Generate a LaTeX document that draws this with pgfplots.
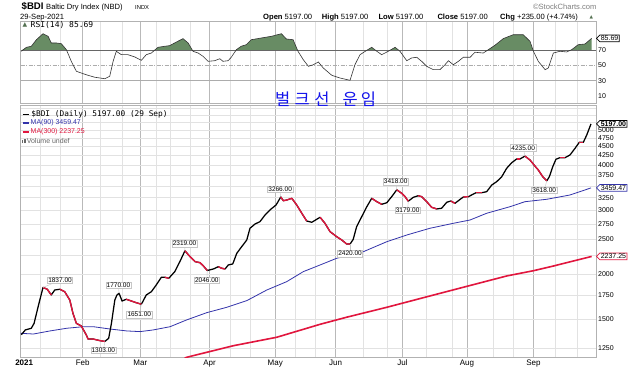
\documentclass[border=0pt]{standalone}
\usepackage{pgfplots}
\pgfplotsset{compat=1.18}
\usepackage{fontspec}
\setmainfont{Liberation Sans}
\newfontfamily\monofont{DejaVu Sans Mono}
\newfontfamily\krfont{Noto Sans CJK KR}
\newfontfamily\symfont{DejaVu Sans}
\usetikzlibrary{shapes.symbols}
\definecolor{bdired}{RGB}{225,22,62}
\definecolor{mablue}{RGB}{51,51,170}
\definecolor{rsigreen}{RGB}{104,140,100}
\definecolor{gridc}{RGB}{226,226,226}
\definecolor{gridm}{RGB}{185,185,185}
\definecolor{krblue}{RGB}{20,20,235}

\pgfplotsset{base/.style={
  scale only axis, width=575.3pt, xmin=0.3, xmax=271.06,
  clip mode=individual,
  xtick={0.3,29.5,56.6,89.2,120.1,148.5,180.0,210.3,241.6},
  minor xtick={9.4,18.8,37.6,47.9,64.3,70.6,80.0,98.8,108.2,129.4,138.8,161.6,172.6,191.4,203.2,222.7,232.1,251.8,262},
  xmajorgrids, xminorgrids,
  major x grid style={draw=gridm, line width=0.5pt},
  minor x grid style={draw=gridc, line width=0.5pt},
  tick style={draw=none},
  axis line style={draw=gray!60, line width=0.5pt},
  yticklabel pos=right,
  yticklabel style={font=\fontsize{7}{8}\selectfont, anchor=west, inner sep=0pt, xshift=2pt},
  xticklabel style={font=\fontsize{8}{9}\selectfont, yshift=1.5pt},
},
redseg/.style={draw=bdired, line width=1.35pt, line join=round},
}
\tikzset{
lab/.style={draw=gray!45, fill=white, font=\fontsize{6.5}{7}\selectfont, inner sep=0.9pt},
conn/.style={draw=gray!45, line width=0.4pt},
vbox/.style={signal, signal to=west, fill=white, line width=0.7pt, inner sep=0.9pt, anchor=west, font=\fontsize{7}{8}\selectfont},
}

\begin{document}
\begin{tikzpicture}[x=1pt,y=1pt]
\useasboundingbox (0,0) rectangle (642,370);
\fill[white] (0,0) rectangle (642,370);

% ---------------- RSI panel ----------------
\begin{axis}[base, at={(20.7pt,266.5pt)}, anchor=south west, height=82.1pt,
  ymin=0, ymax=108, ytick={10,30,50,70}, yticklabels={10,30,50,70},
  xticklabels={}]
\addplot[fill=rsigreen, draw=none] coordinates {(0.75,70)(3.0,73.9)(5.3,75.3)(7.7,83.9)(10.8,91.8)(13.2,88.4)(14.7,79.6)(17.1,79.6)(19.4,78.7)(21.8,70.8)(21.9,70)};
\addplot[fill=rsigreen, draw=none] coordinates {(63.3,70)(64.9,73.9)(68.1,75.3)(70.4,76.1)(73.6,80.9)(76.7,85.3)(79.1,79.6)(81.1,70)};
\addplot[fill=rsigreen, draw=none] coordinates {(101.6,70)(101.8,70.8)(104.1,75.3)(106.5,77.4)(108.8,83.9)(113.6,86.2)(118.3,88.4)(123.0,91.8)(125.3,84.9)(128.5,83.9)(130.6,70)};
\addplot[fill=rsigreen, draw=none] coordinates {(163.2,70)(165.5,73.9)(167.3,70)};
\addplot[fill=rsigreen, draw=none] coordinates {(174.1,70)(176.5,73.9)(178.2,70)};
\addplot[fill=rsigreen, draw=none] coordinates {(220.0,70)(220.4,70.8)(223.5,76.6)(227.4,85.3)(232.1,90.5)(236.8,90.5)(240.0,81.8)(241.4,70)};
\addplot[fill=rsigreen, draw=none] coordinates {(259.0,70)(259.6,70.8)(262.7,77.4)(265.9,78.3)(269.0,85.69)(269.0,70)};
\addplot[draw=gray!80!black, line width=0.6pt] coordinates {(0.3,70)(271.06,70)};
\addplot[draw=gray!65, line width=0.6pt] coordinates {(0.3,30)(271.06,30)};
\addplot[draw=gray!65, line width=0.5pt, dash pattern=on 4pt off 1.5pt on 1pt off 1.5pt] coordinates {(0.3,50)(271.06,50)};
\addplot[draw=black!80, line width=0.6pt] coordinates {
(0.6,68.7)(3.0,73.9)(5.3,75.3)(7.7,83.9)(10.8,91.8)(13.2,88.4)(14.7,79.6)(17.1,79.6)(19.4,78.7)(21.8,70.8)
(24.1,55.5)(26.5,42.4)(28.8,40.1)(32.0,37.1)(35.2,34.5)(39.9,32.6)(42.2,35.8)(43.8,55.5)(45.3,68.7)(47.7,64.2)
(50.8,64.2)(54.0,61.2)(57.1,56.8)(59.4,64.2)(61.8,66.4)(64.9,73.9)(68.1,75.3)(70.4,76.1)(73.6,80.9)(76.7,85.3)
(79.1,79.6)(81.4,68.7)(83.8,66.4)(86.1,62.1)(88.5,55.5)(91.6,56.3)(94.0,58.9)(95.5,55.5)(97.9,56.3)(99.4,60.8)
(101.8,70.8)(104.1,75.3)(106.5,77.4)(108.8,83.9)(113.6,86.2)(118.3,88.4)(123.0,91.8)(125.3,84.9)(128.5,83.9)(130.8,68.7)
(133.3,57.6)(135.7,48.9)(138.0,51.0)(140.4,54.6)(142.7,46.7)(146.7,37.1)(150.6,33.5)(155.3,30.5)(157.6,51.0)(160.0,64.2)
(163.2,70.0)(165.5,73.9)(167.9,68.7)(170.2,64.2)(173.3,68.7)(176.5,73.9)(178.8,68.7)(182.0,56.3)(184.3,59.9)(186.7,60.8)
(189.0,55.5)(191.4,48.9)(194.5,44.5)(197.6,44.5)(200.0,51.0)(201.6,56.3)(203.9,51.0)(206.3,55.5)(208.6,60.8)(211.8,60.8)
(214.1,67.4)(218.0,66.4)(220.4,70.8)(223.5,76.6)(227.4,85.3)(232.1,90.5)(236.8,90.5)(240.0,81.8)(241.6,68.7)(243.9,55.5)
(247.1,44.5)(248.6,46.7)(251.0,66.4)(254.1,68.7)(257.3,67.8)(259.6,70.8)(262.7,77.4)(265.9,78.3)(269.0,85.69)};
\node[vbox, draw=black] at (axis cs:271.06,85.69) {85.69};
\end{axis}

% ---------------- Price panel ----------------
\begin{axis}[base, at={(20.7pt,12.3pt)}, anchor=south west, height=252.7pt,
  ymode=log, ymin=1175, ymax=5862,
  ytick={1250,1500,1750,2000,2500,2750,3000,3250,3750,4000,4250,4500,4750,5000},
  yticklabels={1250,1500,1750,2000,2500,2750,3000,3250,3750,4000,4250,4500,4750,5000},
  minor ytick={2250,3500,5250,5500,5750},
  ymajorgrids, yminorgrids,
  major y grid style={draw=gridc, line width=0.5pt},
  minor y grid style={draw=gridc, line width=0.5pt},
  xticklabels={\hspace{7pt}\textbf{2021},Feb,Mar,Apr,May,Jun,Jul,Aug,Sep}]
% MA(300)
\addplot[draw=bdired, line width=1.6pt] coordinates {
(77.5,1172)(78.4,1178)(100.4,1268)(120.8,1338)(141.2,1453)(153.7,1520)(172.6,1619)(192.9,1740)(208.6,1839)(229.0,1976)(241.6,2043)(251.0,2105)(269.0,2237.25)};
% MA(90)
\addplot[draw=mablue, line width=0.8pt] coordinates {
(0.3,1372)(6.3,1366)(14.1,1393)(22.0,1417)(29.8,1431)(34.5,1431)(42.4,1410)(50.2,1393)(56.5,1387)(62.7,1402)
(70.6,1431)(78.4,1494)(87.9,1565)(97.3,1619)(106.7,1689)(116.1,1807)(125.5,1906)(133.3,2031)(141.2,2119)(149.0,2211)
(161.6,2306)(172.6,2457)(182.0,2564)(192.9,2676)(203.9,2762)(211.8,2821)(219.6,2944)(230.6,3070)(237.6,3169)(247.9,3218)
(258.8,3307)(268.7,3459.47)};
% BDI
\addplot[draw=black, line width=1.25pt, line join=round] coordinates {
(0.6,1360)(2.5,1402)(5.3,1417)(6.6,1462)(8.5,1625)(10.8,1837)(12.8,1816)(14.7,1751)(16.3,1807)(18.7,1816)
(21.0,1788)(23.4,1696)(24.9,1558)(26.5,1462)(28.8,1438)(31.2,1357)(32.0,1323)(34.4,1323)(37.5,1310)(39.9,1303)
(41.7,1329)(43.0,1462)(44.6,1696)(45.6,1751)(46.6,1770)(48.0,1685)(50.0,1704)(52.4,1685)(54.7,1667)(57.1,1651)
(59.4,1751)(61.8,1788)(64.1,1866)(66.5,1960)(68.1,1960)(70.0,1947)(72.8,2031)(75.2,2164)(77.6,2319)(80.0,2234)
(82.4,2164)(84.7,2150)(86.3,2105)(88.1,2046)(91.0,2066)(93.3,2096)(94.9,2075)(96.5,2066)(98.0,2119)(100.1,2133)
(102.0,2283)(104.3,2380)(106.7,2484)(108.2,2676)(110.6,2750)(112.9,2791)(115.3,2912)(117.6,3007)(120.5,3104)(122.7,3266)
(123.9,3189)(125.5,3203)(127.9,3238)(130.2,3104)(132.6,2944)(134.9,2803)(137.3,2780)(139.6,2833)(141.2,2870)(143.5,2762)
(145.9,2619)(149.0,2537)(151.4,2484)(153.7,2422)(155.3,2420)(156.8,2495)(158.4,2704)(160.8,2881)(163.2,3070)(165.5,3238)
(167.9,3169)(170.2,3117)(172.6,3149)(174.9,3272)(177.3,3418)(179.6,3343)(181.2,3272)(182.7,3179)(185.1,3259)(187.4,3292)
(189.0,3272)(191.4,3169)(193.7,3058)(196.1,3026)(198.4,3039)(200.8,3157)(202.7,3183)(204.7,3137)(206.7,3203)(208.6,3265)
(211.0,3272)(214.6,3356)(217.3,3356)(219.6,3377)(222.0,3524)(224.3,3599)(226.7,3715)(229.0,3919)(231.4,4061)(233.7,4158)
(235.3,4158)(237.6,4235)(240.0,4131)(241.9,4002)(243.9,3877)(246.0,3715)(247.9,3618)(249.1,3715)(250.7,3959)(252.2,4150)
(254.1,4193)(256.5,4193)(258.8,4265)(261.2,4450)(263.2,4624)(265.1,4624)(266.7,4843)(268.7,5197)};
% falling stretches in red
\addplot[redseg] coordinates {(10.8,1837)(12.8,1816)(14.7,1751)};
\addplot[redseg] coordinates {(18.7,1816)(21.0,1788)(23.4,1696)(24.9,1558)(26.5,1462)(28.8,1438)(31.2,1357)(32.0,1323)(34.4,1323)(37.5,1310)(39.9,1303)};
\addplot[redseg] coordinates {(50.0,1704)(52.4,1685)(54.7,1667)(57.1,1651)};
\addplot[redseg] coordinates {(68.1,1960)(70.0,1947)};
\addplot[redseg] coordinates {(77.6,2319)(80.0,2234)(82.4,2164)(84.7,2150)(86.3,2105)(88.1,2046)};
\addplot[redseg] coordinates {(93.3,2096)(94.9,2075)(96.5,2066)};
\addplot[redseg] coordinates {(122.7,3266)(123.9,3189)(125.5,3203)(127.9,3238)(130.2,3104)(132.6,2944)(134.9,2803)};
\addplot[redseg] coordinates {(141.2,2870)(143.5,2762)(145.9,2619)(149.0,2537)(151.4,2484)(153.7,2422)(155.3,2420)};
\addplot[redseg] coordinates {(165.5,3238)(167.9,3169)(170.2,3117)};
\addplot[redseg] coordinates {(177.3,3418)(179.6,3343)(181.2,3272)(182.7,3179)};
\addplot[redseg] coordinates {(187.4,3292)(189.0,3272)(191.4,3169)(193.7,3058)(196.1,3026)};
\addplot[redseg] coordinates {(202.7,3183)(204.7,3137)};
\addplot[redseg] coordinates {(208.6,3265)(211.0,3272)};
\addplot[redseg] coordinates {(214.6,3356)(217.3,3356)};
\addplot[redseg] coordinates {(233.7,4158)(235.3,4158)};
\addplot[redseg] coordinates {(237.6,4235)(240.0,4131)(241.9,4002)(243.9,3877)(246.0,3715)(247.9,3618)};
\addplot[redseg] coordinates {(254.1,4193)(256.5,4193)};
\addplot[redseg] coordinates {(263.2,4624)(265.1,4624)};
% value labels
\draw[conn] (axis cs:18.8,1922) -- (axis cs:10.8,1837);
\node[lab] at (axis cs:18.8,1922) {1837.00};
\draw[conn] (axis cs:39.2,1230) -- (axis cs:39.9,1303);
\node[lab] at (axis cs:39.2,1230) {1303.00};
\draw[conn] (axis cs:46.3,1860) -- (axis cs:46.6,1770);
\node[lab] at (axis cs:46.3,1860) {1770.00};
\draw[conn] (axis cs:56.1,1545) -- (axis cs:57.1,1651);
\node[lab] at (axis cs:56.1,1545) {1651.00};
\draw[conn] (axis cs:77.4,2426) -- (axis cs:77.6,2319);
\node[lab] at (axis cs:77.4,2426) {2319.00};
\draw[conn] (axis cs:87.9,1922) -- (axis cs:88.1,2046);
\node[lab] at (axis cs:87.9,1922) {2046.00};
\draw[conn] (axis cs:122.4,3432) -- (axis cs:122.7,3266);
\node[lab] at (axis cs:122.4,3432) {3266.00};
\draw[conn] (axis cs:155.3,2277) -- (axis cs:155.3,2420);
\node[lab] at (axis cs:155.3,2277) {2420.00};
\draw[conn] (axis cs:176.8,3599) -- (axis cs:177.3,3418);
\node[lab] at (axis cs:176.8,3599) {3418.00};
\draw[conn] (axis cs:182.4,3000) -- (axis cs:182.7,3179);
\node[lab] at (axis cs:182.4,3000) {3179.00};
\draw[conn] (axis cs:236.8,4465) -- (axis cs:237.6,4235);
\node[lab] at (axis cs:236.8,4465) {4235.00};
\draw[conn] (axis cs:246.7,3407) -- (axis cs:247.9,3618);
\node[lab] at (axis cs:246.7,3407) {3618.00};
% end-value boxes
\node[vbox, draw=black] at (axis cs:271.06,5197) {\textbf{5197.00}};
\node[vbox, draw=mablue] at (axis cs:271.06,3459.47) {3459.47};
\node[vbox, draw=bdired] at (axis cs:271.06,2237.25) {2237.25};
\end{axis}

% ---------------- header ----------------
\node[anchor=base west, inner sep=0pt, font=\bfseries\fontsize{9.6}{11}\selectfont] at (21.5,360) {\$BDI};
\node[anchor=base west, inner sep=0pt, font=\fontsize{7.6}{9}\selectfont] at (46,360) {Baltic Dry Index (NBD)};
\node[anchor=base west, inner sep=0pt, font=\fontsize{5.8}{7}\selectfont] at (135,360) {INDX};
\node[anchor=base west, inner sep=0pt, font=\fontsize{7.6}{9}\selectfont] at (20,350.7) {29-Sep-2021};
\node[anchor=base east, inner sep=0pt, font=\fontsize{7.6}{9}\selectfont, text=gray] at (596.7,360.7) {\textcopyright StockCharts.com};
\begin{scope}[every node/.style={anchor=base west, inner sep=0pt, font=\fontsize{7.6}{9}\selectfont}]
\node at (263,350.7) {\textbf{Open} 5197.00};
\node at (321.7,350.7) {\textbf{High} 5197.00};
\node at (378.3,350.7) {\textbf{Low} 5197.00};
\node at (437.3,350.7) {\textbf{Close} 5197.00};
\node at (500,350.7) {\textbf{Chg} +235.00 (+4.74\%)};
\node[text=rsigreen!80!black, font=\symfont\fontsize{4.5}{5}\selectfont] at (589.5,351.5) {▲};
\end{scope}

% RSI legend
\node[anchor=west, inner sep=0pt, text=rsigreen!80!black, font=\symfont\fontsize{6}{7}\selectfont] at (22.5,344.7) {▲};
\node[anchor=west, inner sep=0pt, font=\monofont\fontsize{8}{9}\selectfont] at (30.5,344.7) {RSI(14) 85.69};

% price legend
\draw[black, line width=1.2pt] (22.5,255.7) -- (29,255.7);
\node[anchor=west, inner sep=0pt, font=\monofont\fontsize{7.8}{9}\selectfont] at (31.2,255.7) {\$BDI (Daily) 5197.00 (29 Sep)};
\draw[mablue, line width=1.2pt] (22.5,247) -- (29,247);
\node[anchor=west, inner sep=0pt, text=mablue, font=\fontsize{7}{8}\selectfont] at (30.5,247) {MA(90) 3459.47};
\draw[bdired, line width=1.2pt] (22.5,238) -- (29,238);
\node[anchor=west, inner sep=0pt, text=bdired, font=\fontsize{7}{8}\selectfont] at (30.5,238) {MA(300) 2237.25};
\node[anchor=west, inner sep=0pt, text=gray!80!black, font=\fontsize{7}{8}\selectfont] at (22.3,229.3) {\rule{0.9pt}{3pt}\hspace{0.5pt}\rule{0.9pt}{4.5pt}\hspace{0.5pt}\rule{0.9pt}{3.8pt}\hspace{0.6pt}Volume undef};

% Korean annotation
\node[anchor=center, inner sep=0pt, text=krblue, font=\krfont\fontsize{16.5}{18}\selectfont] at (325.5,270.5) {벌\hspace{4.5pt}크\hspace{4.5pt}선\hspace{13pt}운\hspace{3pt}임};
\end{tikzpicture}
\end{document}
